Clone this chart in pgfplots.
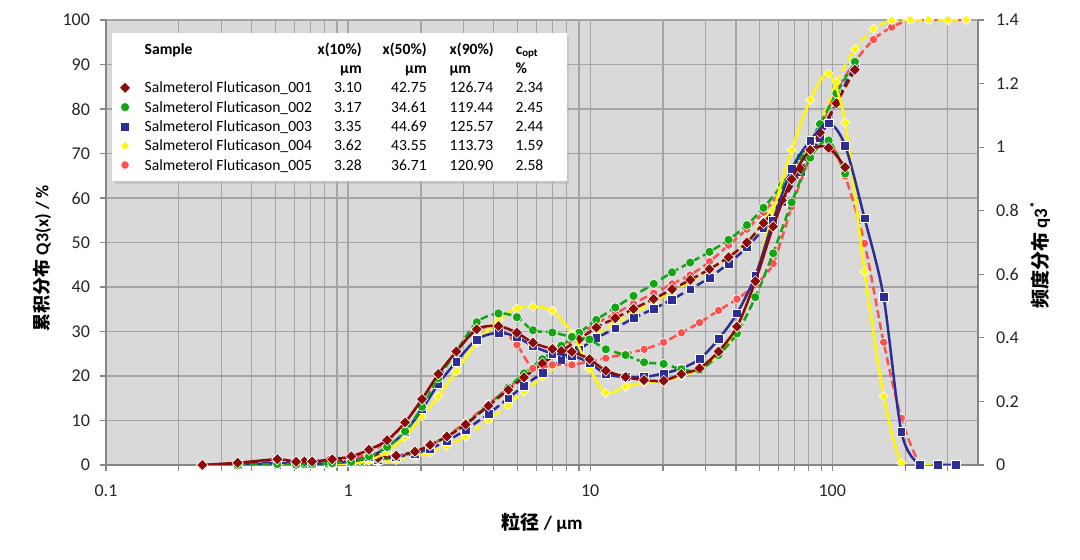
\documentclass[border=0pt]{standalone}
\usepackage{pgfplots}
\pgfplotsset{compat=1.18}
\usepackage{fontspec}
\setmainfont{Carlito}
\newfontfamily\cjk{Noto Sans CJK SC}
\usetikzlibrary{shadows}
\definecolor{cA}{RGB}{139,10,10}
\definecolor{cB}{RGB}{20,165,20}
\definecolor{cC}{RGB}{45,45,150}
\definecolor{cD}{RGB}{255,248,0}
\definecolor{cE}{RGB}{255,80,80}
\definecolor{bg}{RGB}{217,217,217}
\definecolor{gridc}{RGB}{165,165,165}
\definecolor{axc}{RGB}{134,134,134}
\newcommand{\legrow}[5]{\rule[-2.85pt]{0pt}{9.5pt}\makebox[87.5pt][l]{#1}\makebox[21pt][r]{#2}\makebox[32.5pt][r]{#3}\hspace{11.5pt}\makebox[33pt][l]{#4}\makebox[22pt][l]{#5}}
\pgfplotsset{
  mkA/.style={mark=square*, mark size=2pt, mark options={solid, rotate=45, fill=cA, draw=white, line width=0.3pt}},
  mkB/.style={mark=*, mark size=2.3pt, mark options={solid, fill=cB, draw=white, line width=0.3pt}},
  mkC/.style={mark=square*, mark size=2.2pt, mark options={solid, fill=cC, draw=white, line width=0.3pt}},
  mkD/.style={mark=square*, mark size=1.6pt, mark options={solid, rotate=45, fill=cD, draw=white, line width=0.3pt}},
  mkE/.style={mark=*, mark size=2.1pt, mark options={solid, fill=cE, draw=white, line width=0.3pt}},
  myln/.style={line width=1.25pt, smooth, tension=0.5},
  mydsh/.style={dash pattern=on 4pt off 2pt},
  legmark/.style={legend image code/.code={\draw[##1] plot coordinates {(0pt,0pt)};}},
}
\begin{document}
\begin{tikzpicture}
\path[use as bounding box] (-53pt,-47.5pt) rectangle (487pt,232.5pt);
\begin{axis}[xmode=log, xmin=0.1, xmax=400, ymin=0, ymax=100,
  at={(0pt,0pt)}, anchor=south west, width=436pt, height=222.5pt, scale only axis,
  clip mode=individual,
  ticklabel style={font=\fontsize{9}{10}\selectfont, text=black!85},
  label style={font=\fontsize{9.5}{11}\selectfont},
  tick align=outside, major tick length=3pt, minor tick length=3pt,
  tick style={axc, line width=0.6pt},
  axis line style={axc, line width=0.7pt},
  axis background/.style={fill=bg},
  axis x line*=bottom, axis y line*=left,
  xtick={0.1,1,10,100}, xticklabels={0.1,1,10,100},
  minor xtick={0.2,0.3,0.4,0.5,0.6,0.7,0.8,0.9,2,3,4,5,6,7,8,9,20,30,40,50,60,70,80,90,200,300},
  ytick={0,10,20,30,40,50,60,70,80,90,100}, yticklabels={0,10,20,30,40,50,60,70,80,90,100},
  grid=both, major grid style={gridc, line width=0.6pt}, minor grid style={gridc, line width=0.6pt},
  xticklabel style={yshift=-3.5pt}, yticklabel style={xshift=-1.5pt},
  xlabel={{\cjk\bfseries 粒径} \textbf{/ µm}},
  xlabel style={at={(axis description cs:0.5,-0.13)}, anchor=center},
  ylabel={{\cjk\bfseries 累积分布} \textbf{Q3(x) / \%}},
  ylabel style={at={(axis description cs:-0.0734,0.465)}, anchor=center, rotate=0, font=\fontsize{9}{11}\selectfont},
]
\addplot[cE, myln, mydsh, mkE] coordinates {(0.66,0)(0.83,0.2)(1.12,0.6)(1.33,1.2)(1.58,1.9)(1.89,2.9)(2.18,4.4)(2.56,6.6)(3.06,9.5)(3.80,13.7)(4.59,17.3)(5.33,20.2)(6.35,23.0)(7.6,26.0)(9.0,29.2)(10.6,31.8)(12.7,34.0)(15.1,36.3)(18.3,38.6)(21.8,40.7)(25.9,42.7)(31.1,45.7)(37.3,49.4)(44.4,53.0)(52,56.8)(62,61.8)(74,68.5)(89,76.0)(104,84.0)(124,90.6)(148,95.6)(176,98.4)(210,100)(250,100)(300,100)(358,100)};
\addplot[cD, myln, mydsh, mkD] coordinates {(0.51,0)(0.66,0)(0.83,0.1)(1.12,0.3)(1.33,0.6)(1.58,1.1)(1.89,1.8)(2.18,2.8)(2.56,4.3)(3.06,6.4)(3.80,10.1)(4.59,13.5)(5.33,16.5)(6.35,19.8)(7.6,23.0)(9.0,26.3)(10.6,29.3)(12.7,31.9)(15.1,34.2)(18.3,36.6)(21.8,38.9)(25.9,41.2)(31.1,43.8)(37.3,46.6)(44.4,50.3)(52,54.8)(62,61.5)(74,68.5)(89,76.5)(104,86.0)(124,93.4)(148,98.0)(176,99.9)(210,100)(250,100)(300,100)(358,100)};
\addplot[cC, myln, mydsh, mkC] coordinates {(0.51,0.1)(0.66,0.2)(0.83,0.4)(1.12,0.8)(1.33,1.2)(1.58,1.8)(1.89,2.6)(2.18,3.7)(2.56,5.4)(3.06,7.9)(3.80,11.5)(4.59,15.0)(5.33,17.8)(6.35,20.7)(7.6,23.6)(9.0,26.0)(10.6,28.5)(12.7,30.7)(15.1,33.0)(18.3,35.1)(21.8,37.2)(25.9,39.5)(31.1,42.1)(37.3,45.3)(44.4,48.9)(52,53.2)(62,59.2)(74,65.9)(89,73.5)(104,81.5)(124,89.8)};
\addplot[cB, myln, mydsh, mkB] coordinates {(0.35,0)(0.51,0.1)(0.66,0.2)(0.83,0.3)(1.12,0.7)(1.33,1.3)(1.58,2.0)(1.89,2.9)(2.18,4.4)(2.56,6.4)(3.06,9.2)(3.80,13.5)(4.59,17.4)(5.33,20.6)(6.35,23.8)(7.6,26.8)(9.0,29.7)(10.6,32.6)(12.7,35.4)(15.1,38.0)(18.3,40.7)(21.8,43.3)(25.9,45.5)(31.1,47.9)(37.3,50.6)(44.4,53.9)(52,57.8)(62,62.9)(74,69.3)(89,76.6)(104,83.5)(124,90.6)};
\addplot[cA, myln, mydsh, mkA] coordinates {(0.25,0)(0.35,0.3)(0.51,0.6)(0.66,0.8)(0.83,0.9)(1.12,1.3)(1.33,1.6)(1.58,2.1)(1.89,3.0)(2.18,4.5)(2.56,6.4)(3.06,9.1)(3.80,13.3)(4.59,16.9)(5.33,19.7)(6.35,22.8)(7.6,25.6)(9.0,28.2)(10.6,30.9)(12.7,33.0)(15.1,35.1)(18.3,37.3)(21.8,39.5)(25.9,41.6)(31.1,44.0)(37.3,46.7)(44.4,50.0)(52,54.4)(62,59.5)(74,66.5)(89,74.7)(104,81.3)(124,88.8)};
\end{axis}
\begin{axis}[xmode=log, xmin=0.1, xmax=400, ymin=0, ymax=1.4,
  at={(0pt,0pt)}, anchor=south west, width=436pt, height=222.5pt, scale only axis,
  clip mode=individual,
  ticklabel style={font=\fontsize{9}{10}\selectfont, text=black!85},
  label style={font=\fontsize{9.5}{11}\selectfont},
  tick align=outside, major tick length=3pt,
  tick style={axc, line width=0.6pt},
  axis line style={axc, line width=0.7pt},
  axis x line=none, axis y line*=right,
  ytick={0,0.2,0.4,0.6,0.8,1,1.2,1.4}, yticklabels={0,0.2,0.4,0.6,0.8,1,1.2,1.4},
  yticklabel style={xshift=2.5pt},
  ylabel={{\cjk\bfseries 频度分布} \textbf{q3\textsuperscript{*}}},
  ylabel style={at={(axis description cs:1.0711,0.472)}, anchor=center, rotate=0},
  legend style={at={(axis description cs:0.0069,0.9708)}, anchor=north west, fill=white, draw=none,
    drop shadow={shadow xshift=1.3pt, shadow yshift=-1.3pt, fill=black!30},
    inner xsep=3.5pt, inner ysep=4pt, font=\fontsize{7.8}{9.5}\selectfont,
    cells={anchor=west}, column sep=7pt, row sep=1.5pt, nodes={inner sep=0pt}},
  legend cell align=left,
]
\addlegendimage{empty legend}
\addlegendentry{\vbox{\hbox{\bfseries\legrow{Sample}{x(10\%)}{x(50\%)}{x(90\%)}{c\textsubscript{opt}}}\hbox{\bfseries\legrow{}{µm}{µm}{µm}{\%}}}}
\addlegendimage{only marks, mkA, legmark}
\addlegendentry{\legrow{Salmeterol Fluticason\_001}{3.10}{42.75}{126.74}{2.34}}
\addlegendimage{only marks, mkB, legmark}
\addlegendentry{\legrow{Salmeterol Fluticason\_002}{3.17}{34.61}{119.44}{2.45}}
\addlegendimage{only marks, mkC, legmark}
\addlegendentry{\legrow{Salmeterol Fluticason\_003}{3.35}{44.69}{125.57}{2.44}}
\addlegendimage{only marks, mkD, legmark}
\addlegendentry{\legrow{Salmeterol Fluticason\_004}{3.62}{43.55}{113.73}{1.59}}
\addlegendimage{only marks, mkE, legmark}
\addlegendentry{\legrow{Salmeterol Fluticason\_005}{3.28}{36.71}{120.90}{2.58}}
\addplot[cE, myln, mydsh, mkE] coordinates {(0.61,0.003)(0.71,0.004)(0.86,0.008)(1.03,0.017)(1.22,0.039)(1.45,0.074)(1.72,0.133)(2.02,0.207)(2.36,0.283)(2.80,0.358)(3.40,0.424)(4.18,0.431)(4.98,0.378)(5.80,0.304)(6.98,0.315)(8.40,0.315)(9.93,0.326)(11.6,0.336)(14.0,0.350)(16.7,0.364)(20.1,0.386)(23.8,0.416)(28.3,0.448)(33.9,0.486)(40.4,0.522)(48.1,0.567)(57.0,0.634)(68.0,0.812)(81.1,0.965)(96.6,1.016)(113,0.909)(136,0.697)(163,0.386)(193,0.147)(230,0.006)(272,0)(325,0)};
\addplot[cD, myln, mkD] coordinates {(0.51,0)(0.61,0)(0.71,0)(0.86,0.001)(1.03,0.004)(1.22,0.014)(1.45,0.042)(1.72,0.088)(2.02,0.153)(2.36,0.216)(2.80,0.295)(3.40,0.385)(4.18,0.455)(4.98,0.493)(5.80,0.498)(6.98,0.486)(8.40,0.413)(9.93,0.304)(11.6,0.227)(14.0,0.246)(16.7,0.259)(20.1,0.266)(23.8,0.280)(28.3,0.301)(33.9,0.350)(40.4,0.434)(48.1,0.588)(57.0,0.798)(68.0,0.991)(81.1,1.148)(96.6,1.232)(113,1.077)(136,0.608)(163,0.217)(193,0.006)(230,0)(272,0)(325,0)};
\addplot[cC, myln, mkC] coordinates {(0.35,0)(0.51,0.006)(0.61,0.003)(0.71,0.003)(0.86,0.006)(1.03,0.011)(1.22,0.025)(1.45,0.056)(1.72,0.105)(2.02,0.175)(2.36,0.255)(2.80,0.325)(3.40,0.395)(4.18,0.416)(4.98,0.403)(5.80,0.374)(6.98,0.351)(8.40,0.344)(9.93,0.322)(11.6,0.286)(14.0,0.277)(16.7,0.277)(20.1,0.288)(23.8,0.304)(28.3,0.333)(33.9,0.396)(40.4,0.477)(48.1,0.595)(57.0,0.770)(68.0,0.931)(81.1,1.021)(96.6,1.075)(113,1.005)(136,0.776)(163,0.528)(193,0.105)(230,0)(272,0)(325,0)};
\addplot[cB, myln, mydsh, mkB] coordinates {(0.35,0)(0.51,0.003)(0.61,0.001)(0.71,0.003)(0.86,0.006)(1.03,0.010)(1.22,0.027)(1.45,0.057)(1.72,0.106)(2.02,0.183)(2.36,0.273)(2.80,0.357)(3.40,0.449)(4.18,0.477)(4.98,0.465)(5.80,0.424)(6.98,0.417)(8.40,0.403)(9.93,0.395)(11.6,0.364)(14.0,0.346)(16.7,0.323)(20.1,0.318)(23.8,0.301)(28.3,0.298)(33.9,0.346)(40.4,0.414)(48.1,0.528)(57.0,0.666)(68.0,0.826)(81.1,0.967)(96.6,1.021)(113,0.917)};
\addplot[cA, myln, mkA] coordinates {(0.25,0)(0.35,0.007)(0.51,0.018)(0.61,0.010)(0.71,0.011)(0.86,0.018)(1.03,0.027)(1.22,0.048)(1.45,0.078)(1.72,0.134)(2.02,0.207)(2.36,0.286)(2.80,0.357)(3.40,0.427)(4.18,0.437)(4.98,0.416)(5.80,0.385)(6.98,0.365)(8.40,0.356)(9.93,0.333)(11.6,0.297)(14.0,0.277)(16.7,0.267)(20.1,0.265)(23.8,0.286)(28.3,0.304)(33.9,0.357)(40.4,0.435)(48.1,0.578)(57.0,0.750)(68.0,0.899)(81.1,0.991)(96.6,0.998)(113,0.937)};
\end{axis}
\end{tikzpicture}
\end{document}
